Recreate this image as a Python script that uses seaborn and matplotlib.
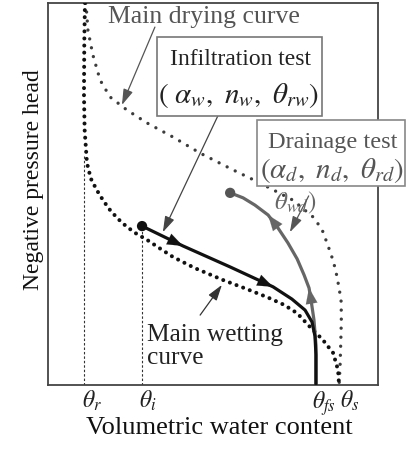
import numpy as np
import pandas as pd
import seaborn as sns
import matplotlib
matplotlib.use("Agg")
import matplotlib.pyplot as plt
from matplotlib.patches import Rectangle
from matplotlib.transforms import ScaledTranslation

# ---------------- data (volumetric water content x, negative pressure head y; normalised) ----
wet_x = [0.112, 0.110, 0.109, 0.111, 0.118, 0.130, 0.148, 0.168, 0.188, 0.212, 0.239, 0.268, 0.300,
         0.340, 0.379, 0.445, 0.530, 0.600, 0.664, 0.715, 0.755, 0.794, 0.833, 0.864, 0.879, 0.882]
wet_y = [1.000, 0.900, 0.760, 0.668, 0.581, 0.540, 0.510, 0.482, 0.458, 0.435, 0.414, 0.396, 0.380,
         0.357, 0.335, 0.306, 0.275, 0.252, 0.230, 0.210, 0.188, 0.152, 0.118, 0.084, 0.039, 0.000]

dry_x = [0.115, 0.121, 0.136, 0.158, 0.188, 0.239, 0.300, 0.379, 0.461, 0.561, 0.642, 0.742,
         0.803, 0.830, 0.848, 0.865, 0.876, 0.888, 0.889, 0.888, 0.885, 0.882]
dry_y = [1.000, 0.929, 0.864, 0.798, 0.754, 0.720, 0.686, 0.649, 0.607, 0.563, 0.529, 0.484,
         0.440, 0.408, 0.366, 0.323, 0.283, 0.223, 0.180, 0.136, 0.047, 0.000]

inf_x = [0.285, 0.409, 0.552, 0.682, 0.739, 0.779, 0.800, 0.809, 0.812, 0.812]
inf_y = [0.416, 0.364, 0.309, 0.257, 0.225, 0.196, 0.165, 0.128, 0.079, 0.000]
inf_arrows = [1, 3]

drn_x = [0.812, 0.812, 0.806, 0.797, 0.791, 0.776, 0.755, 0.727, 0.697, 0.667, 0.627, 0.591, 0.552]
drn_y = [0.000, 0.105, 0.170, 0.223, 0.254, 0.288, 0.330, 0.372, 0.411, 0.445, 0.471, 0.490, 0.503]
drn_arrows = [4, 9]

tick_pos = [0.109, 0.285, 0.812, 0.882]
tick_labels = [r'$\theta_r$', r'$\theta_i$', r'$\theta_{fs}$', r'$\theta_s$']
theta_r_top = 0.60

# ---------------- style ----------------
sns.set_style("white")
plt.rcParams['font.family'] = ['Liberation Serif', 'DejaVu Serif']
plt.rcParams['mathtext.fontset'] = 'stix'

fig = plt.figure(figsize=(4.07, 4.49), dpi=100)
ax = fig.add_axes([48/407, 64/449, 330/407, 382/449])
ax.set_xlim(0, 1)
ax.set_ylim(0, 1)

wet = pd.DataFrame({'x': wet_x, 'y': wet_y})
dry = pd.DataFrame({'x': dry_x, 'y': dry_y})
inf = pd.DataFrame({'x': inf_x, 'y': inf_y})
drn = pd.DataFrame({'x': drn_x, 'y': drn_y})

# reference dashed lines
ax.plot([tick_pos[0], tick_pos[0]], [0, theta_r_top], color='#333333', lw=0.8,
        linestyle=(0, (2.2, 1.8)), zorder=1)
ax.plot([tick_pos[1], tick_pos[1]], [0, inf_y[0]], color='#333333', lw=0.8,
        linestyle=(0, (2.2, 1.8)), zorder=1)

# main curves
sns.lineplot(data=dry, x='x', y='y', sort=False, estimator=None, ax=ax, color='#3c3c3c',
             lw=2.4, linestyle=(0, (0.01, 2.7)), dash_capstyle='round', zorder=2)
sns.lineplot(data=wet, x='x', y='y', sort=False, estimator=None, ax=ax, color='#111111',
             lw=2.9, linestyle=(0, (0.01, 1.75)), dash_capstyle='round', zorder=3)

# test paths
sns.lineplot(data=drn, x='x', y='y', sort=False, estimator=None, ax=ax, color='#666666',
             lw=2.3, zorder=4)
sns.lineplot(data=inf, x='x', y='y', sort=False, estimator=None, ax=ax, color='#111111',
             lw=2.3, zorder=5)
sns.scatterplot(x=[inf_x[0]], y=[inf_y[0]], ax=ax, color='#111111', s=55, edgecolor='none', zorder=6)
sns.scatterplot(x=[drn_x[-1]], y=[drn_y[-1]], ax=ax, color='#555555', s=55, edgecolor='none', zorder=6)

hs = '-|>,head_length=0.8,head_width=0.3'
for i in inf_arrows:
    ax.annotate('', xy=(inf_x[i], inf_y[i]), xytext=(inf_x[i-1], inf_y[i-1]),
                arrowprops=dict(arrowstyle=hs, color='#111111', lw=0.1, shrinkA=0, shrinkB=0,
                                mutation_scale=14), zorder=6)
for i in drn_arrows:
    ax.annotate('', xy=(drn_x[i], drn_y[i]), xytext=(drn_x[i-1], drn_y[i-1]),
                arrowprops=dict(arrowstyle=hs, color='#666666', lw=0.1, shrinkA=0, shrinkB=0,
                                mutation_scale=14), zorder=6)

# spines / ticks
for s in ax.spines.values():
    s.set_visible(True)
    s.set_color('#444444')
    s.set_linewidth(1.3)
ax.set_yticks([])
ax.set_xticks(tick_pos)
ax.set_xticklabels(tick_labels, fontsize=17, color='#222222')
ax.tick_params(axis='x', length=0, pad=3)
label_shift_px = [-2, -3, -4, 1]
for lab, dx in zip(ax.get_xticklabels(), label_shift_px):
    lab.set_ha('left')
    lab.set_transform(lab.get_transform() + ScaledTranslation(dx/100, 0, fig.dpi_scale_trans))
ax.set_xlabel('')
ax.set_ylabel('')

ax.text(0.518, -0.112, 'Volumetric water content', transform=ax.transAxes, ha='center',
        va='center', fontsize=19, color='#111111')
ax.text(-0.045, 0.537, 'Negative pressure head', transform=ax.transAxes, ha='center',
        va='center', rotation=90, fontsize=17, color='#111111')

# annotations
ax.text(0.473, 0.963, 'Main drying curve', transform=ax.transAxes, ha='center', va='center',
        fontsize=18.5, color='#555555', zorder=7)
ax.annotate('', xy=(0.224, 0.733), xytext=(0.324, 0.937),
            arrowprops=dict(arrowstyle='-|>,head_length=0.8,head_width=0.25', color='#555555',
                            lw=0.9, shrinkA=0, shrinkB=0, mutation_scale=12), zorder=7)

ax.add_patch(Rectangle((0.330, 0.704), 0.500, 0.207, transform=ax.transAxes, facecolor='white',
                       edgecolor='#777777', lw=1.2, clip_on=False, zorder=8))
ax.text(0.582, 0.851, 'Infiltration test', transform=ax.transAxes, ha='center', va='center',
        fontsize=17, color='#222222', zorder=9)
ax.text(0.579, 0.757, r'$(\ \alpha_w,\ n_w,\ \theta_{rw})$', transform=ax.transAxes, ha='center',
        va='center', fontsize=21, color='#222222', zorder=9)
ax.annotate('', xy=(0.348, 0.40), xytext=(0.515, 0.705),
            arrowprops=dict(arrowstyle='-|>,head_length=0.8,head_width=0.25', color='#444444',
                            lw=0.9, shrinkA=0, shrinkB=0, mutation_scale=12), zorder=7)

ax.text(0.748, 0.478, r'$\theta_{wd})$', transform=ax.transAxes, ha='center', va='center',
        fontsize=18, color='#666666', zorder=7)
ax.annotate('', xy=(0.733, 0.40), xytext=(0.79, 0.495),
            arrowprops=dict(arrowstyle='-|>,head_length=0.8,head_width=0.25', color='#555555',
                            lw=0.9, shrinkA=0, shrinkB=0, mutation_scale=12), zorder=7)

ax.add_patch(Rectangle((0.633, 0.521), 0.449, 0.173, transform=ax.transAxes, facecolor='white',
                       edgecolor='#888888', lw=1.2, clip_on=False, zorder=8))
ax.text(0.862, 0.636, 'Drainage test', transform=ax.transAxes, ha='center', va='center',
        fontsize=17.5, color='#555555', zorder=9)
ax.text(0.862, 0.561, r'$(\alpha_d,\ n_d,\ \theta_{rd})$', transform=ax.transAxes, ha='center',
        va='center', fontsize=21, color='#555555', zorder=9)

ax.text(0.300, 0.100, 'Main wetting\ncurve', transform=ax.transAxes, ha='left', va='center',
        fontsize=18.3, color='#222222', linespacing=1.05, zorder=7)
ax.annotate('', xy=(0.527, 0.262), xytext=(0.461, 0.183),
            arrowprops=dict(arrowstyle='-|>,head_length=0.8,head_width=0.25', color='#333333',
                            lw=0.9, shrinkA=0, shrinkB=0, mutation_scale=12), zorder=7)

fig.savefig('out.png', dpi=100)
